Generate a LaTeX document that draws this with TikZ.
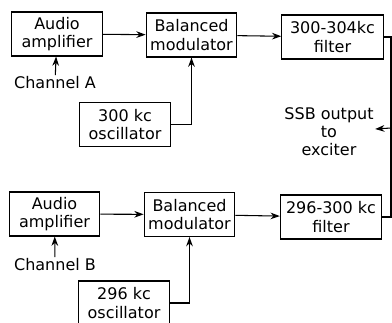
\documentclass[tikz,border=0pt]{standalone}
\usepackage{fontspec}
\setmainfont{DejaVu Sans}
\usetikzlibrary{arrows.meta}

\begin{document}
\begin{tikzpicture}[
    x=0.75pt, y=-0.75pt,
    block/.style={draw, line width=0.8pt, align=center, minimum width=68pt, minimum height=33pt, inner sep=1pt,
                  font=\fontsize{12}{14}\selectfont}, % Boxes
    wide/.style={minimum width=76pt}, % Filter boxes
    txt/.style={align=center, inner sep=1pt, font=\fontsize{12}{13.5}\selectfont}, % Free labels
    wire/.style={line width=0.8pt},
    feed/.style={wire, -{Stealth[length=7pt, width=5pt]}}
]
    \useasboundingbox (0,0) rectangle (392,323);

    % Upper channel
    \node[block] (ampA) at (57,34) {Audio\\amplifier};
    \node[block] (modA) at (191.5,35) {Balanced\\modulator};
    \node[block, wide] (filtA) at (332.5,37) {300-304kc\\filter};
    \node[block] (oscA) at (125,124.5) {300 kc\\oscillator};
    \node[txt] (chA) at (55,83) {Channel A};

    % Lower channel
    \node[block] (ampB) at (54.5,214) {Audio\\amplifier};
    \node[block] (modB) at (189.5,214.5) {Balanced\\modulator};
    \node[block, wide] (filtB) at (331,217) {296-300 kc\\filter};
    \node[block] (oscB) at (124,303) {296 kc\\oscillator};
    \node[txt] (chB) at (55,265) {Channel B};

    % Output
    \node[txt] (ssb) at (329,132) {SSB output\\to\\exciter};
    \coordinate (busA) at (391,37);
    \coordinate (busB) at (391,217);
    \coordinate (tap) at (391,128);

    % Connections
    \draw[feed] (chA) -- (ampA);
    \draw[feed] (ampA) -- (modA);
    \draw[feed] (modA) -- (filtA);
    \draw[feed] (oscA) -| (modA);
    \draw[feed] (chB) -- (ampB);
    \draw[feed] (ampB) -- (modB);
    \draw[feed] (modB) -- (filtB);
    \draw[feed] (oscB) -| (modB);
    \draw[wire] (filtA) -- (busA) -- (busB) -- (filtB);
    \draw[feed] (tap) -- (ssb);

\end{tikzpicture}
\end{document}
